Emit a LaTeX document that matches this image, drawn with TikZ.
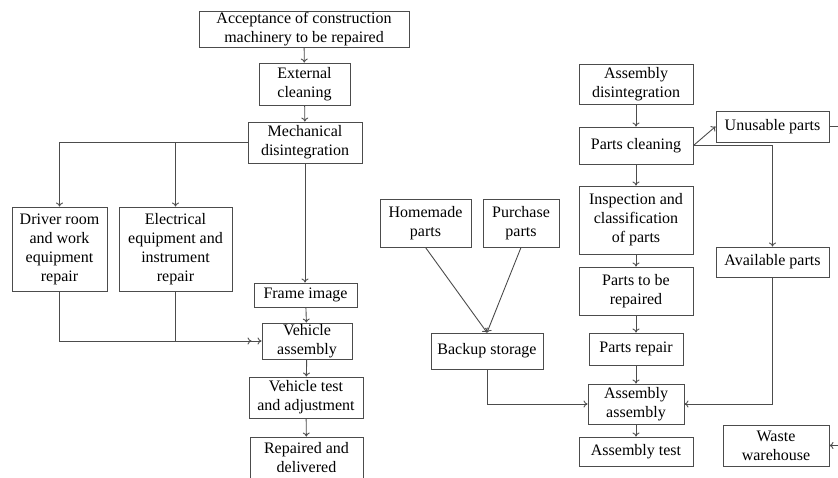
\documentclass[tikz,border=0pt]{standalone}
\usepackage{fontspec}
\setmainfont{Liberation Serif}
\usetikzlibrary{positioning}
\usetikzlibrary{calc}
\usetikzlibrary{arrows.meta}

\begin{document}
\begin{tikzpicture}[x=1pt,y=-1pt
            ,box/.style={draw=black!70,line width=0.9pt,align=center,inner sep=1pt
                        ,font=\fontsize{16}{19}\selectfont}
            ,link/.style={-{To[length=4pt,width=7pt]},draw=black!70,line width=0.9pt}
            ]
\useasboundingbox (0,0) rectangle (838,477);
% vehicle line
\node[box,minimum width=210pt,minimum height=36pt] (accept) at (304,29) {Acceptance of construction\\machinery to be repaired};
\node[box,minimum width=91pt,minimum height=42pt] (extclean) at (304.5,84) {External\\cleaning};
\node[box,minimum width=114pt,minimum height=41pt] (mechdis) at (305,142.5) {Mechanical\\disintegration};
\node[box,minimum width=95pt,minimum height=84pt] (driver) at (59.5,249) {Driver room\\and work\\equipment\\repair};
\node[box,minimum width=113pt,minimum height=84pt] (elec) at (175.5,249) {Electrical\\equipment and\\instrument\\repair};
\node[box,minimum width=103pt,minimum height=24pt] (frame) at (305.5,295) {Frame image};
\node[box,minimum width=90pt,minimum height=36pt] (vassem) at (307,341) {Vehicle\\assembly};
\node[box,minimum width=114pt,minimum height=41pt] (vtest) at (306,397.5) {Vehicle test\\and adjustment};
\node[box,minimum width=113pt,minimum height=42pt] (repaired) at (306.5,458) {Repaired and\\delivered};
% parts line
\node[box,minimum width=114pt,minimum height=40pt] (asmdis) at (636,84) {Assembly\\disintegration};
\node[box,minimum width=114pt,minimum height=37pt] (pclean) at (636,145.5) {Parts cleaning};
\node[box,minimum width=113pt,minimum height=31pt] (unusable) at (772.5,126.5) {Unusable parts};
\node[box,minimum width=114pt,minimum height=68pt] (inspect) at (636,220) {Inspection and\\classification\\of parts};
\node[box,minimum width=91pt,minimum height=48pt] (homemade) at (425.5,223) {Homemade\\parts};
\node[box,minimum width=76pt,minimum height=48pt] (purchase) at (521,223) {Purchase\\parts};
\node[box,minimum width=113pt,minimum height=30pt] (avail) at (772.5,262) {Available parts};
\node[box,minimum width=114pt,minimum height=48pt] (torepair) at (636,291) {Parts to be\\repaired};
\node[box,minimum width=112pt,minimum height=36pt] (backup) at (487,351) {Backup storage};
\node[box,minimum width=94pt,minimum height=32pt] (prepair) at (636,349) {Parts repair};
\node[box,minimum width=96pt,minimum height=40pt] (asmasm) at (636,404) {Assembly\\assembly};
\node[box,minimum width=114pt,minimum height=29pt] (asmtest) at (636,451.5) {Assembly test};
\node[box,minimum width=106pt,minimum height=41pt] (waste) at (776,445.5) {Waste\\warehouse};

\path[every edge/.style=link]
  (accept) edge (extclean)
  (extclean) edge (mechdis)
  (frame) edge (vassem)
  (vassem) edge (vtest)
  (vtest) edge (repaired)
  (asmdis) edge (pclean)
  (pclean) edge (inspect)
  (inspect) edge (torepair)
  (torepair) edge (prepair)
  (prepair) edge (asmasm)
  (asmasm) edge (asmtest)
  (pclean.east) edge (unusable.west)
  (homemade.south) edge (backup.north)
  (purchase.south) edge (backup.north)
  ;
\draw[link] (mechdis.west) -| (driver.north);
\draw[link] (mechdis.west) -| (elec.north);
\draw[link] (mechdis.south) -- (mechdis.south |- frame.north);
\draw[link,shorten >=10pt] (driver.south) |- (vassem.west);
\draw[link] (elec.south) |- (vassem.west);
\draw[link] (pclean.east) -| (avail.north);
\draw[link] (backup.south) |- (asmasm.west);
\draw[link] (avail.south) |- (asmasm.east);
\draw[link] (unusable.east) -- ++(30,0) |- (waste.east);
\end{tikzpicture}
\end{document}
